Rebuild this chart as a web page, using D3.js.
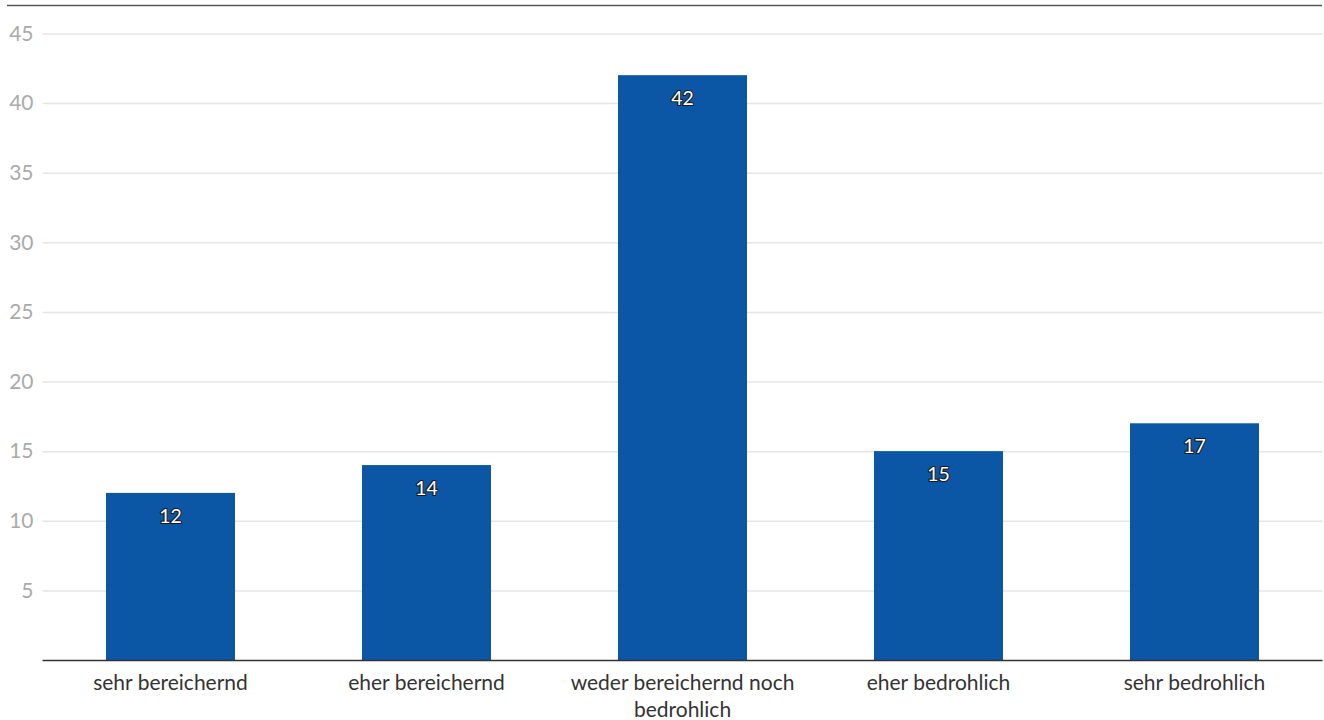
<!DOCTYPE html>
<html>
<head>
<meta charset="utf-8">
<script src="https://cdn.jsdelivr.net/npm/d3@7"></script>
<style>
  html, body { margin: 0; padding: 0; background: #fff; }
  svg { display: block; font-family: Lato, "Open Sans", sans-serif; }
</style>
</head>
<body>
<svg id="chart" width="1324" height="720"></svg>
<script>
const categories = ["sehr bereichernd", "eher bereichernd", "weder bereichernd noch bedrohlich", "eher bedrohlich", "sehr bedrohlich"];
const values = [12, 14, 42, 15, 17];
const yTicks = [5, 10, 15, 20, 25, 30, 35, 40, 45];

const svg = d3.select("#chart");
const left = 42.5, right = 1322.5, baseY = 660;

const x = d3.scaleBand().domain(categories).range([left, right]).paddingInner(0.496).paddingOuter(0.248);
const y = d3.scaleLinear().domain([0, 45]).range([baseY, 33.4]);

// top border
svg.append("line").attr("x1", 7).attr("x2", 1322).attr("y1", 5.5).attr("y2", 5.5)
  .attr("stroke", "#555").attr("stroke-width", 1.5);

// gridlines + tick labels
const yAxis = d3.axisLeft(y).tickValues(yTicks).tickSize(-(right - left)).tickPadding(10);
const gy = svg.append("g").attr("transform", `translate(${left},0)`).call(yAxis);
gy.select(".domain").remove();
gy.selectAll(".tick line").attr("stroke", "#e6e6e6").attr("stroke-width", 1.5);
gy.selectAll(".tick text").attr("fill", "#aaaaaa").attr("font-size", 21).attr("x", -9)
  .attr("font-family", "Lato, sans-serif");

// bars
svg.append("g").selectAll("rect").data(values).join("rect")
  .attr("x", (d, i) => x(categories[i]))
  .attr("width", x.bandwidth())
  .attr("y", d => y(d))
  .attr("height", d => baseY - y(d))
  .attr("fill", "#0c56a6");

// value labels
svg.append("g").selectAll("text").data(values).join("text")
  .attr("x", (d, i) => x(categories[i]) + x.bandwidth() / 2)
  .attr("y", d => y(d) + 30)
  .attr("text-anchor", "middle")
  .attr("font-size", 19.5)
  .attr("fill", "#fff")
  .attr("stroke", "#1a1a1a")
  .attr("stroke-width", 2.2)
  .attr("stroke-linejoin", "round")
  .attr("paint-order", "stroke")
  .text(d => d);

// baseline
svg.append("line").attr("x1", left).attr("x2", right).attr("y1", baseY + 0.5).attr("y2", baseY + 0.5)
  .attr("stroke", "#333").attr("stroke-width", 1.5);

// category labels (wrapped)
const xAxis = d3.axisBottom(x).tickSize(0).tickPadding(0);
const gx = svg.append("g").attr("transform", `translate(0,${baseY})`).call(xAxis);
gx.select(".domain").remove();
gx.selectAll(".tick text").remove();
gx.selectAll(".tick").each(function(d) {
  const maxW = 240;
  const words = d.split(" ");
  const lines = [];
  let cur = "";
  const tmp = svg.append("text").attr("font-size", 21).attr("font-family", "Lato, sans-serif");
  words.forEach(w => {
    const test = cur ? cur + " " + w : w;
    tmp.text(test);
    if (tmp.node().getComputedTextLength() > maxW && cur) { lines.push(cur); cur = w; }
    else cur = test;
  });
  lines.push(cur);
  tmp.remove();
  const t = d3.select(this).append("text").attr("text-anchor", "middle")
    .attr("fill", "#333").attr("font-size", 21).attr("font-family", "Lato, sans-serif");
  lines.forEach((l, i) => t.append("tspan").attr("x", 0).attr("y", 30 + i * 26.5).text(l));
});
</script>
</body>
</html>
